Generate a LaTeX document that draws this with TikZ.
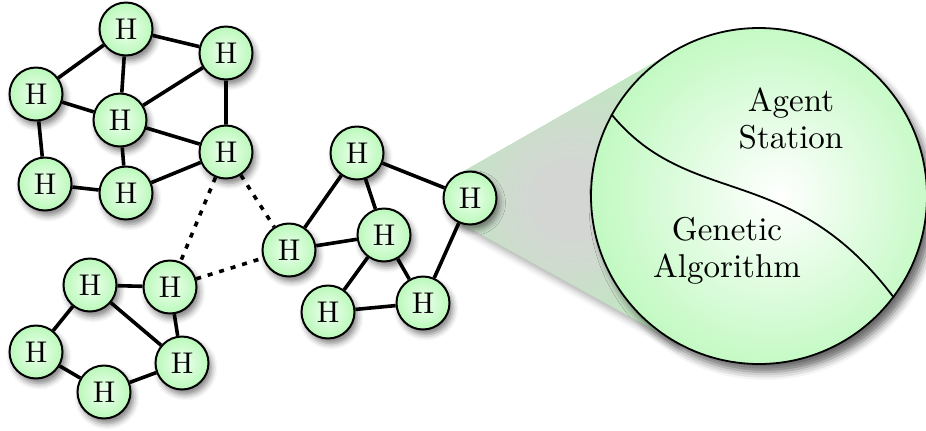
\documentclass[tikz,border=0pt]{standalone}
\usetikzlibrary{shadows.blur,backgrounds}
\font\hfont="[lmroman10-regular]" at 15pt
\font\lblfont="[lmroman10-regular]" at 16.5pt
\definecolor{hgreen}{RGB}{162,246,162}
\definecolor{hlight}{RGB}{240,255,240}
\definecolor{conegreen}{RGB}{184,238,184}
\definecolor{conegray}{RGB}{212,214,212}
\pgfdeclareradialshading{hball}{\pgfpoint{0bp}{0bp}}{color(0bp)=(hlight); color(36bp)=(hgreen); color(50bp)=(hgreen)}
\pgfdeclareradialshading{bigball}{\pgfpoint{3bp}{0bp}}{color(0bp)=(white); color(40bp)=(hgreen); color(55bp)=(hgreen)}
\pgfdeclareradialshading{coneball}{\pgfpoint{0bp}{0bp}}{color(0bp)=(conegray); color(6bp)=(conegray); color(30bp)=(conegreen); color(50bp)=(conegreen)}
\begin{document}
\begin{tikzpicture}[x=0.5pt,y=-0.5pt,
  hnode/.style={circle, draw=black, line width=1pt, minimum size=26.5pt, inner sep=0pt,
    shading=hball, font=\hfont,
    blur shadow={shadow xshift=1.5pt, shadow yshift=-2.5pt, shadow blur radius=3pt, shadow opacity=50}},
  bignode/.style={circle, draw=black, line width=0.9pt, minimum size=168pt, inner sep=0pt,
    shading=bigball,
    blur shadow={shadow xshift=3pt, shadow yshift=-4pt, shadow blur radius=4pt, shadow opacity=60}},
  link/.style={line width=1.8pt},
  weak/.style={line width=1.8pt, dash pattern=on 2.5pt off 3.5pt},
  txt/.style={align=center, font={\lblfont\baselineskip=18.5pt\relax}},
  divider/.style={line width=0.9pt},
  cone/.style={fill=conegreen,
    blur shadow={shadow xshift=1.5pt, shadow yshift=-3pt, shadow blur radius=3pt, shadow opacity=30}}
]
\useasboundingbox (0,0) rectangle (926,430);

% cone of the zoom
\path[cone] (457,175) -- (676,50) -- (676,342) -- (457,221) -- cycle;
\begin{scope}
  \clip (457,175) -- (676,50) -- (676,342) -- (457,221) -- cycle;
  \shade[shading=coneball] (572,200) circle[radius=150];
\end{scope}

% magnified circle
\node[bignode] (big) at (759,196) {};
\draw[divider] (big.151.7) .. controls (690,210) and (790,160) .. (big.-37.8);
\node[txt] (agent) at (791,119) {Agent\\Station};
\node[txt] (ga) at (727,251) {Genetic\\Algorithm};

% cluster 1
\node[hnode] (a1) at (126,29) {H};
\node[hnode] (a2) at (226,53) {H};
\node[hnode] (a3) at (36,94) {H};
\node[hnode] (a4) at (120,120) {H};
\node[hnode] (a5) at (226,152) {H};
\node[hnode] (a6) at (45,184) {H};
\node[hnode] (a7) at (126,193) {H};
% cluster 2
\node[hnode] (b1) at (90,285) {H};
\node[hnode] (b2) at (170,287) {H};
\node[hnode] (b3) at (36,352) {H};
\node[hnode] (b4) at (104,392) {H};
\node[hnode] (b5) at (182,363) {H};
% cluster 3
\node[hnode] (c1) at (357,153) {H};
\node[hnode] (c2) at (470,198) {H};
\node[hnode] (c3) at (289,250) {H};
\node[hnode] (c4) at (384,235) {H};
\node[hnode] (c5) at (328,312) {H};
\node[hnode] (c6) at (423,303) {H};

\begin{pgfonlayer}{background}
\draw[link] (a1) -- (a2) (a1) -- (a3) (a1) -- (a4) (a2) -- (a4) (a2) -- (a5)
  (a3) -- (a4) (a3) -- (a6) (a4) -- (a5) (a4) -- (a7) (a6) -- (a7) (a7) -- (a5);
\draw[link] (b1) -- (b2) (b1) -- (b3) (b1) -- (b5) (b2) -- (b5) (b3) -- (b4) (b4) -- (b5);
\draw[link] (c1) -- (c2) (c1) -- (c3) (c1) -- (c4) (c3) -- (c4) (c4) -- (c5)
  (c4) -- (c6) (c5) -- (c6) (c6) -- (c2);
\draw[weak] (a5) -- (b2) (a5) -- (c3) (b2) -- (c3);
\end{pgfonlayer}
\end{tikzpicture}
\end{document}
